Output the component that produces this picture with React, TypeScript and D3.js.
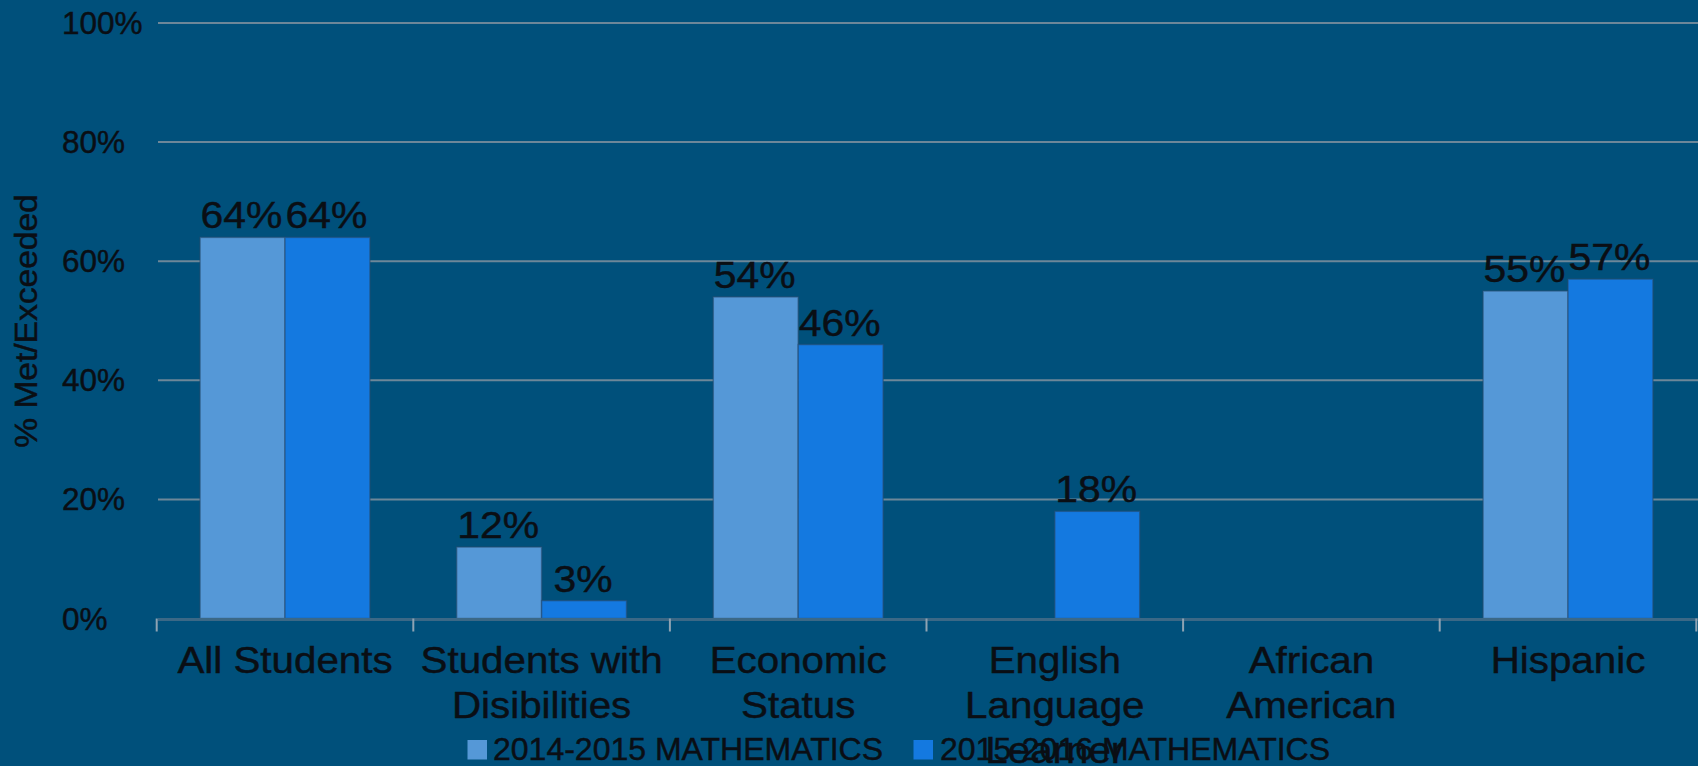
import React, { useEffect } from "react";
import * as d3 from "d3";

const categories = [
  "All Students",
  "Students with Disibilities",
  "Economic Status",
  "English Language Learner",
  "African American",
  "Hispanic",
];
const categoryLines = [
  ["All Students"],
  ["Students with", "Disibilities"],
  ["Economic", "Status"],
  ["English", "Language", "Learner"],
  ["African", "American"],
  ["Hispanic"],
];
const seriesNames = ["2014-2015 MATHEMATICS", "2015-2016 MATHEMATICS"];
const values2014: (number | null)[] = [64, 12, 54, null, null, 55];
const values2016: (number | null)[] = [64, 3, 46, 18, null, 57];
const yTicks = [0, 20, 40, 60, 80, 100];

const W = 1698;
const H = 766;
const BG = "#00507b";
const LIGHT = "#5598d7";
const DARK = "#1479e0";
const TEXT = "#0a0e14";
const FONT = "'Liberation Sans', Arial, sans-serif";
const TS = 0.45;

export default function App() {
  useEffect(() => {
    document.body.style.margin = "0";
  }, []);

  const left = 156.7;
  const right = 1696.3;
  const x = d3.scaleBand<string>().domain(categories).range([left, right]).padding(0);
  const y = d3.scaleLinear().domain([0, 100]).range([618.5, 23]);
  const bw = x.bandwidth();
  const inner = d3
    .scaleBand<number>()
    .domain([0, 1])
    .range([bw * 0.169, bw * 0.831])
    .padding(0);

  const series = [values2014, values2016];
  const colors = [LIGHT, DARK];

  return (
    <svg
      width={W}
      height={H}
      style={{ position: "absolute", left: 0, top: 0, display: "block" }}
      fontFamily={FONT}
    >
      <rect x={0} y={0} width={W} height={H} fill={BG} />

      {/* gridlines */}
      {yTicks
        .filter((t) => t > 0)
        .map((t) => (
          <line
            key={"g" + t}
            x1={158}
            x2={W}
            y1={y(t)}
            y2={y(t)}
            stroke="#6d8799"
            strokeWidth={2}
          />
        ))}

      {/* y tick labels */}
      {yTicks.map((t) => (
        <text
          key={"yt" + t}
          x={62}
          y={y(t) + 11}
          fontSize={31.5}
          fill={TEXT}
          stroke={TEXT}
          strokeWidth={TS}
          textAnchor="start"
        >
          {t + "%"}
        </text>
      ))}

      {/* y axis title */}
      <text
        transform={`translate(37,321) rotate(-90) scale(1.1,1)`}
        fontSize={30.5}
        fill={TEXT}
        stroke={TEXT}
        strokeWidth={TS}
        textAnchor="middle"
      >
        % Met/Exceeded
      </text>

      {/* bars */}
      {categories.map((c) =>
        series.map((s, si) => {
          const v = s[categories.indexOf(c)];
          if (v === null || v === undefined) return null;
          const bx = (x(c) as number) + (inner(si) as number);
          return (
            <rect
              key={c + si}
              x={bx}
              y={y(v)}
              width={inner.bandwidth()}
              height={y(0) - y(v)}
              fill={colors[si]}
              stroke="rgba(40,75,110,0.55)"
              strokeWidth={1.5}
            />
          );
        })
      )}

      {/* axis baseline */}
      <line x1={158} x2={W} y1={y(0) + 1} y2={y(0) + 1} stroke="#3b6886" strokeWidth={3} />
      {/* ticks at band boundaries */}
      {categories.map((c) => (
        <line
          key={"tk" + c}
          x1={x(c) as number}
          x2={x(c) as number}
          y1={y(0)}
          y2={y(0) + 13}
          stroke="#8ea3b3"
          strokeWidth={2}
        />
      ))}
      <line x1={right} x2={right} y1={y(0)} y2={y(0) + 13} stroke="#8ea3b3" strokeWidth={2} />

      {/* data labels */}
      {categories.map((c) =>
        series.map((s, si) => {
          const v = s[categories.indexOf(c)];
          if (v === null || v === undefined) return null;
          const cx = (x(c) as number) + (inner(si) as number) + inner.bandwidth() / 2 - 1;
          return (
            <text
              key={"dl" + c + si}
              transform={`translate(${cx},${y(v) - 9}) scale(1.12,1)`}
              fontSize={36.5}
              fill={TEXT}
              stroke={TEXT}
              strokeWidth={TS}
              textAnchor="middle"
            >
              {v + "%"}
            </text>
          );
        })
      )}

      {/* legend */}
      <rect x={467.5} y={740} width={19.5} height={19.5} fill={LIGHT} />
      <text x={493} y={760} fontSize={32} fill={TEXT} stroke={TEXT} strokeWidth={TS}>
        {seriesNames[0]}
      </text>
      <rect x={913.5} y={740} width={19.5} height={19.5} fill={DARK} />
      <text x={940} y={760} fontSize={32} fill={TEXT} stroke={TEXT} strokeWidth={TS}>
        {seriesNames[1]}
      </text>

      {/* category labels */}
      {categories.map((c, i) => {
        const cx = (x(c) as number) + bw / 2;
        return categoryLines[i].map((ln, li) => (
          <text
            key={"cl" + c + li}
            transform={`translate(${cx},${673.3 + li * 45}) scale(1.09,1)`}
            fontSize={37}
            fill={TEXT}
            stroke={TEXT}
            strokeWidth={TS}
            textAnchor="middle"
          >
            {ln}
          </text>
        ));
      })}
    </svg>
  );
}
